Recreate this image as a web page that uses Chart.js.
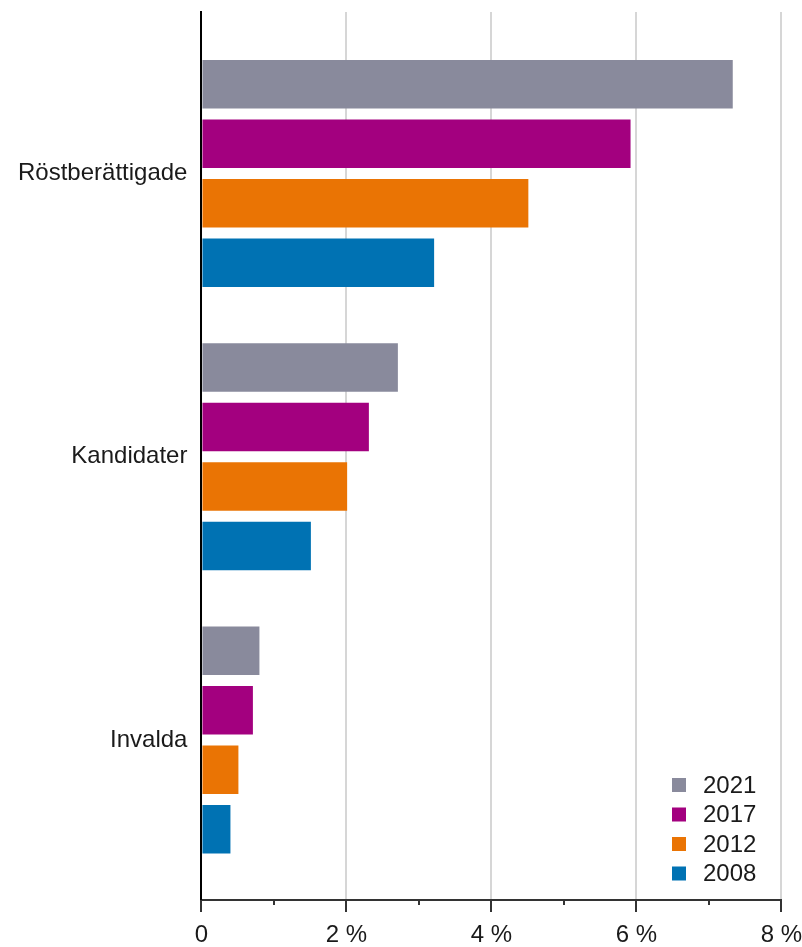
<!DOCTYPE html>
<html>
<head>
<meta charset="utf-8">
<script src="https://cdn.jsdelivr.net/npm/chart.js@4/dist/chart.umd.min.js"></script>
<style>
  body { margin: 0; background: #fff; }
  #wrap { width: 802px; height: 947px; }
</style>
</head>
<body>
<div id="wrap"><canvas id="chart"></canvas></div>
<script>
const categories = ['Röstberättigade', 'Kandidater', 'Invalda'];
const years = ['2021', '2017', '2012', '2008'];
const values2021 = [7.33, 2.71, 0.80];
const values2017 = [5.92, 2.31, 0.71];
const values2012 = [4.51, 2.01, 0.51];
const values2008 = [3.21, 1.51, 0.40];
const xTicks = [0, 2, 4, 6, 8];
const colors = ['#898a9c', '#a3007f', '#ea7404', '#0072b3'];

function toPoints(arr) {
    return arr.map(function (v, i) { return { x: v, y: i }; });
}

const series = [values2021, values2017, values2012, values2008];
const datasets = series.map(function (arr, k) {
    return {
        label: years[k],
        data: toPoints(arr),
        backgroundColor: colors[k],
        borderWidth: 0,
        categoryPercentage: 0.84,
        barPercentage: 0.815
    };
});

// tick marks on the x axis (long + short) and the legend inside the plot
const extras = {
    id: 'extras',
    afterDraw: function (chart) {
        var ctx = chart.ctx;
        var x = chart.scales.x;
        var area = chart.chartArea;
        ctx.save();
        ctx.strokeStyle = '#333';
        ctx.lineWidth = 2;
        for (var v = 0; v <= 8; v++) {
            var px = Math.round(x.getPixelForValue(v));
            ctx.beginPath();
            ctx.moveTo(px, area.bottom);
            ctx.lineTo(px, area.bottom + (v % 2 === 0 ? 12 : 5));
            ctx.stroke();
        }
        ctx.font = '24px "Liberation Sans", Arial, sans-serif';
        ctx.textBaseline = 'middle';
        chart.data.datasets.forEach(function (ds, i) {
            var cy = 785 + i * 29.5;
            ctx.fillStyle = ds.backgroundColor;
            ctx.fillRect(672, cy - 7, 14, 14);
            ctx.fillStyle = '#1a1a1a';
            ctx.fillText(ds.label, 703, cy + 1);
        });
        ctx.restore();
    }
};

Chart.defaults.font.family = '"Liberation Sans", Arial, sans-serif';
Chart.defaults.font.size = 24;
Chart.defaults.color = '#1a1a1a';

new Chart(document.getElementById('chart'), {
    type: 'bar',
    data: { datasets: datasets },
    plugins: [extras],
    options: {
        indexAxis: 'y',
        responsive: true,
        maintainAspectRatio: false,
        animation: false,
        layout: { padding: { top: 0, left: 18, right: 3, bottom: 0 } },
        plugins: {
            legend: { display: false },
            tooltip: { enabled: false }
        },
        scales: {
            x: {
                type: 'linear',
                min: 0,
                max: 8,
                ticks: {
                    stepSize: 1,
                    padding: 0,
                    maxRotation: 0,
                    autoSkip: false,
                    font: { lineHeight: 1 },
                    callback: function (value) {
                        if (xTicks.indexOf(value) < 0) return '';
                        return value === 0 ? '0' : value + ' %';
                    }
                },
                grid: {
                    lineWidth: 2,
                    tickLength: 23,
                    color: function (c) {
                        var v = c.tick.value;
                        return (v % 2 === 0 && v !== 0) ? '#d6d6d6' : 'rgba(0,0,0,0)';
                    },
                    tickColor: 'rgba(0,0,0,0)'
                },
                border: { color: '#333', width: 2 }
            },
            y: {
                type: 'linear',
                reverse: true,
                offset: false,
                min: -0.57,
                max: 2.565,
                afterBuildTicks: function (scale) {
                    scale.ticks = categories.map(function (c, i) { return { value: i }; });
                },
                ticks: {
                    padding: 0,
                    autoSkip: false,
                    font: { lineHeight: 1 },
                    callback: function (value) {
                        return categories[value] || '';
                    }
                },
                grid: {
                    offset: false,
                    tickLength: 14,
                    color: 'rgba(0,0,0,0)',
                    tickColor: 'rgba(0,0,0,0)'
                },
                border: { color: '#000', width: 2 }
            }
        }
    }
});
</script>
</body>
</html>
